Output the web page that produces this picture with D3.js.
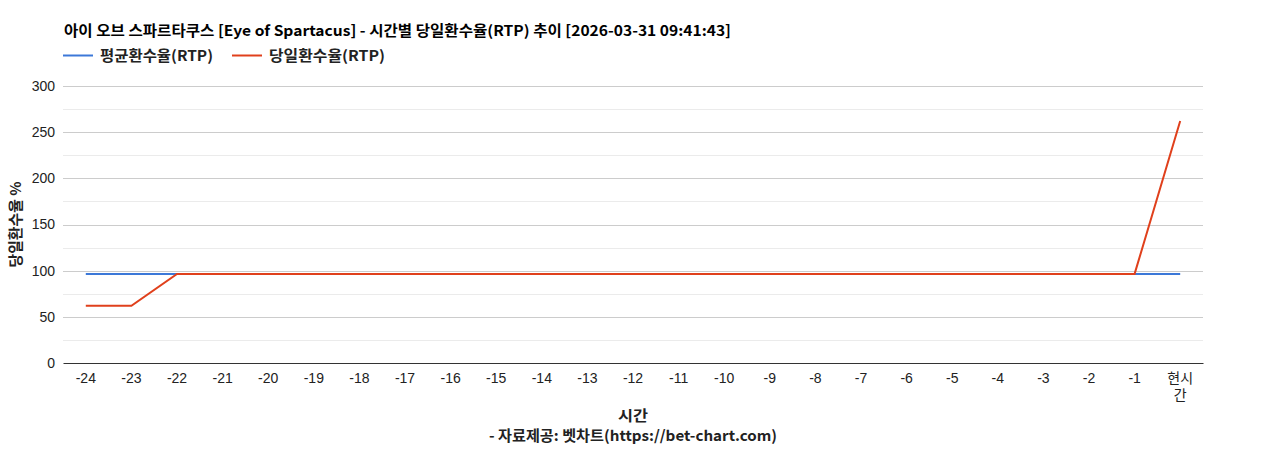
<!DOCTYPE html>
<html>
<head>
<meta charset="utf-8">
<script src="https://cdn.jsdelivr.net/npm/d3@7"></script>
<style>
  body { margin: 0; background: #fff; }
  svg { display: block; }
</style>
</head>
<body>
<svg id="chart" width="1268" height="450"></svg>
<script>
const categories = ['-24', '-23', '-22', '-21', '-20', '-19', '-18', '-17', '-16', '-15', '-14', '-13',
  '-12', '-11', '-10', '-9', '-8', '-7', '-6', '-5', '-4', '-3', '-2', '-1', '현시간'];

const avgRtp = [96.5, 96.5, 96.5, 96.5, 96.5, 96.5, 96.5, 96.5, 96.5, 96.5, 96.5, 96.5,
  96.5, 96.5, 96.5, 96.5, 96.5, 96.5, 96.5, 96.5, 96.5, 96.5, 96.5, 96.5, 96.5];

const dayRtp = [62, 62, 96.5, 96.5, 96.5, 96.5, 96.5, 96.5, 96.5, 96.5, 96.5, 96.5,
  96.5, 96.5, 96.5, 96.5, 96.5, 96.5, 96.5, 96.5, 96.5, 96.5, 96.5, 96.5, 262];

const yTicks = [0, 50, 100, 150, 200, 250, 300];
const yMinorTicks = [25, 75, 125, 175, 225, 275];

const seriesNames = ['평균환수율(RTP)', '당일환수율(RTP)'];
const seriesColors = ['#3c78d8', '#e0401c'];

const titleText = '아이 오브 스파르타쿠스 [Eye of Spartacus] - 시간별 당일환수율(RTP) 추이 [2026-03-31 09:41:43]';

const KR = '"Noto Sans CJK KR", "Noto Sans", sans-serif';
const LAT = '"Liberation Sans", Arial, "Noto Sans CJK KR", sans-serif';

const margin = {left: 63, right: 65, top: 86, bottom: 87};
const width = 1268, height = 450;

const svg = d3.select('#chart');

const x = d3.scaleBand()
  .domain(categories)
  .range([margin.left, width - margin.right])
  .paddingInner(0)
  .paddingOuter(0);

const y = d3.scaleLinear()
  .domain([0, 300])
  .range([height - margin.bottom, margin.top]);

const cx = d => x(d) + x.bandwidth() / 2;

// bold korean label, stretched to the width it has in the original render
function label(g, txt, px, py, len, anchor) {
  return g.append('text')
    .attr('x', px)
    .attr('y', py)
    .attr('text-anchor', anchor || 'start')
    .attr('font-family', KR)
    .attr('font-size', 14.5)
    .attr('font-weight', 'bold')
    .attr('fill', '#222')
    .attr('textLength', len)
    .attr('lengthAdjust', 'spacingAndGlyphs')
    .text(txt);
}

// gridlines
const grid = svg.append('g').attr('class', 'grid');
grid.selectAll('.minor').data(yMinorTicks).enter()
  .append('line')
    .attr('class', 'minor')
    .attr('x1', margin.left).attr('x2', width - margin.right)
    .attr('y1', d => Math.round(y(d)) + 0.5).attr('y2', d => Math.round(y(d)) + 0.5)
    .attr('stroke', '#ebebeb');
grid.selectAll('.major').data(yTicks.filter(t => t > 0)).enter()
  .append('line')
    .attr('class', 'major')
    .attr('x1', margin.left).attr('x2', width - margin.right)
    .attr('y1', d => Math.round(y(d)) + 0.5).attr('y2', d => Math.round(y(d)) + 0.5)
    .attr('stroke', '#cccccc');

// y axis labels
const yAxis = svg.append('g')
  .attr('transform', `translate(${margin.left - 8},0)`)
  .call(d3.axisLeft(y).tickValues(yTicks).tickSize(0).tickPadding(0));
yAxis.select('.domain').remove();
yAxis.selectAll('text')
  .attr('font-family', LAT)
  .attr('font-size', 14)
  .attr('fill', '#222');

// x axis
const xAxis = svg.append('g')
  .attr('transform', `translate(0,${height - margin.bottom})`)
  .call(d3.axisBottom(x).tickSize(0).tickPadding(10));
xAxis.select('.domain').attr('stroke', '#333').attr('stroke-width', 1);
xAxis.selectAll('text')
  .attr('font-family', LAT)
  .attr('font-size', 14)
  .attr('fill', '#222')
  .each(function(d) {
    if (d === '현시간') {
      const t = d3.select(this).text(null);
      t.append('tspan').attr('x', 0).attr('dy', '0.71em').text('현시');
      t.append('tspan').attr('x', 0).attr('dy', '1.25em').text('간');
      t.attr('dy', null);
    }
  });

// lines
const line = d3.line()
  .x((d, i) => cx(categories[i]))
  .y(d => y(d));

[avgRtp, dayRtp].forEach((series, i) => {
  svg.append('path')
    .datum(series)
    .attr('fill', 'none')
    .attr('stroke', seriesColors[i])
    .attr('stroke-width', 2)
    .attr('d', line);
});

// title
label(svg, titleText, 64, 36, 667).attr('fill', '#000');

// legend
const legendX = [63, 232];
const legendLen = [113, 116];
seriesNames.forEach((name, i) => {
  svg.append('line')
    .attr('x1', legendX[i]).attr('x2', legendX[i] + 30)
    .attr('y1', 55.5).attr('y2', 55.5)
    .attr('stroke', seriesColors[i])
    .attr('stroke-width', 2);
  label(svg, name, legendX[i] + 37, 60.5, legendLen[i]);
});

// y axis title
const yTitle = svg.append('g')
  .attr('transform', `translate(21,${(margin.top + height - margin.bottom) / 2}) rotate(-90)`);
label(yTitle, '당일환수율 %', 0, 0, 86, 'middle');

// x axis title + source
const midX = (margin.left + width - margin.right) / 2;
label(svg, '시간', midX, 421, 30, 'middle');
label(svg, '- 자료제공: 벳차트(https://bet-chart.com)', midX, 441, 288, 'middle');
</script>
</body>
</html>
